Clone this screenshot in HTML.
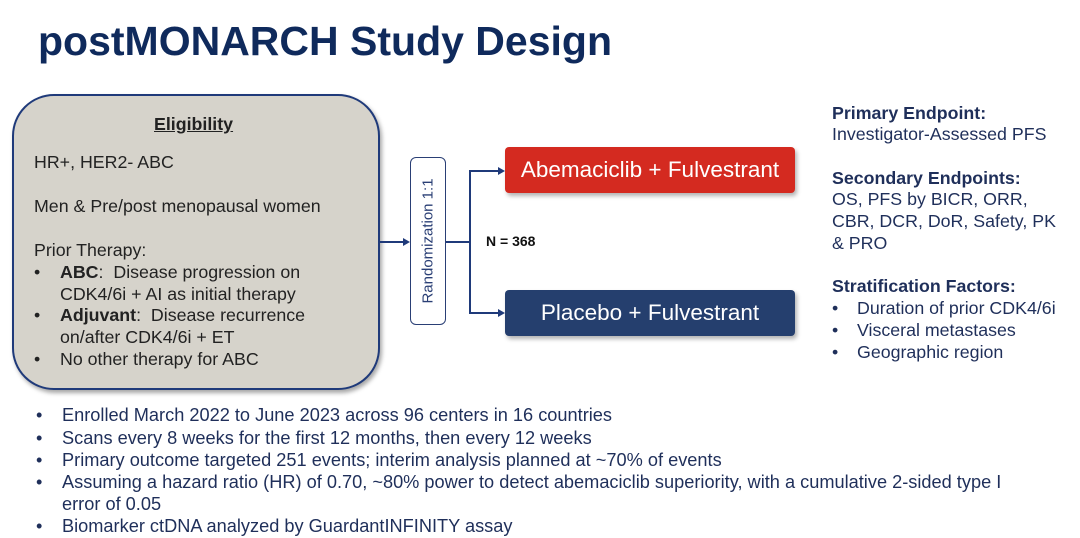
<!DOCTYPE html>
<html><head><meta charset="utf-8"><style>
body{margin:0;width:1080px;height:538px;background:#fff;position:relative;overflow:hidden;font-family:"Liberation Sans",Arial,sans-serif}
.a{position:absolute;white-space:nowrap}
.t{left:38px;top:18px;font-size:41px;font-weight:bold;color:#0f2a5c}
.elig{left:12px;top:94px;width:364px;height:292px;background:#d6d3cb;border:2.5px solid #1f3a7a;border-radius:42px;box-shadow:2px 3px 4px rgba(0,0,0,.35)}
.et{font-size:17.8px;color:#222}
.rand{left:410px;top:157px;width:34px;height:166px;border:1.5px solid #2a3f75;border-radius:6px;background:#fff}
.rand span{position:absolute;left:50%;top:50%;transform:translate(-50%,-50%) rotate(-90deg);font-size:15px;color:#2a3f75;white-space:nowrap}
.box{left:505px;width:290px;height:46px;border-radius:4px;color:#fff;font-size:22.5px;text-align:center;line-height:46px;box-shadow:2px 3px 4px rgba(0,0,0,.3)}
.rt{left:832px;font-size:17.8px;color:#1f2f5a}
.b{font-weight:bold}
.bl{left:36px;font-size:18.2px;color:#1f2f5a}
</style></head><body>
<div class="a t">postMONARCH Study Design</div>
<div class="a elig"></div>
<div class="a et b" style="left:154px;top:114px;text-decoration:underline">Eligibility</div>
<div class="a et" style="left:34px;top:152px">HR+, HER2- ABC</div>
<div class="a et" style="left:34px;top:196px">Men &amp; Pre/post menopausal women</div>
<div class="a et" style="left:34px;top:240px">Prior Therapy:</div>
<div class="a et" style="left:34px;top:262px">•</div><div class="a et" style="left:60px;top:262px"><b>ABC</b>:&nbsp; Disease progression on</div>
<div class="a et" style="left:60px;top:284px">CDK4/6i + AI as initial therapy</div>
<div class="a et" style="left:34px;top:305px">•</div><div class="a et" style="left:60px;top:305px"><b>Adjuvant</b>:&nbsp; Disease recurrence</div>
<div class="a et" style="left:60px;top:327px">on/after CDK4/6i + ET</div>
<div class="a et" style="left:34px;top:349px">•</div><div class="a et" style="left:60px;top:349px">No other therapy for ABC</div>

<svg class="a" style="left:0;top:0" width="1080" height="538">
<g stroke="#1f3a7a" stroke-width="2" fill="none">
<line x1="380" y1="242" x2="405" y2="242"/>
<line x1="445" y1="242" x2="470" y2="242"/>
<polyline points="500,171 470,171 470,313 500,313"/>
</g>
<g fill="#1f3a7a">
<polygon points="410,242 403,238 403,246"/>
<polygon points="505,171 498,167 498,175"/>
<polygon points="505,313 498,309 498,317"/>
</g>
</svg>
<div class="a rand"><span>Randomization 1:1</span></div>
<div class="a b" style="left:486px;top:233px;font-size:14px;color:#111">N = 368</div>
<div class="a box" style="top:147px;background:#d42a20">Abemaciclib + Fulvestrant</div>
<div class="a box" style="top:290px;background:#253f6e">Placebo + Fulvestrant</div>

<div class="a rt b" style="top:103px">Primary Endpoint:</div>
<div class="a rt" style="top:124px">Investigator-Assessed PFS</div>
<div class="a rt b" style="top:168px">Secondary Endpoints:</div>
<div class="a rt" style="top:189px">OS, PFS by BICR, ORR,</div>
<div class="a rt" style="top:211px">CBR, DCR, DoR, Safety, PK</div>
<div class="a rt" style="top:233px">&amp; PRO</div>
<div class="a rt b" style="top:276px">Stratification Factors:</div>
<div class="a rt" style="top:298px">•</div><div class="a rt" style="left:857px;top:298px">Duration of prior CDK4/6i</div>
<div class="a rt" style="top:320px">•</div><div class="a rt" style="left:857px;top:320px">Visceral metastases</div>
<div class="a rt" style="top:342px">•</div><div class="a rt" style="left:857px;top:342px">Geographic region</div>

<div class="a bl" style="top:405px">•</div><div class="a bl" style="left:62px;top:405px">Enrolled March 2022 to June 2023 across 96 centers in 16 countries</div>
<div class="a bl" style="top:428px">•</div><div class="a bl" style="left:62px;top:428px">Scans every 8 weeks for the first 12 months, then every 12 weeks</div>
<div class="a bl" style="top:450px">•</div><div class="a bl" style="left:62px;top:450px">Primary outcome targeted 251 events; interim analysis planned at ~70% of events</div>
<div class="a bl" style="top:472px">•</div><div class="a bl" style="left:62px;top:472px">Assuming a hazard ratio (HR) of 0.70, ~80% power to detect abemaciclib superiority, with a cumulative 2-sided type I</div>
<div class="a bl" style="left:62px;top:494px">error of 0.05</div>
<div class="a bl" style="top:516px">•</div><div class="a bl" style="left:62px;top:516px">Biomarker ctDNA analyzed by GuardantINFINITY assay</div>
</body></html>
